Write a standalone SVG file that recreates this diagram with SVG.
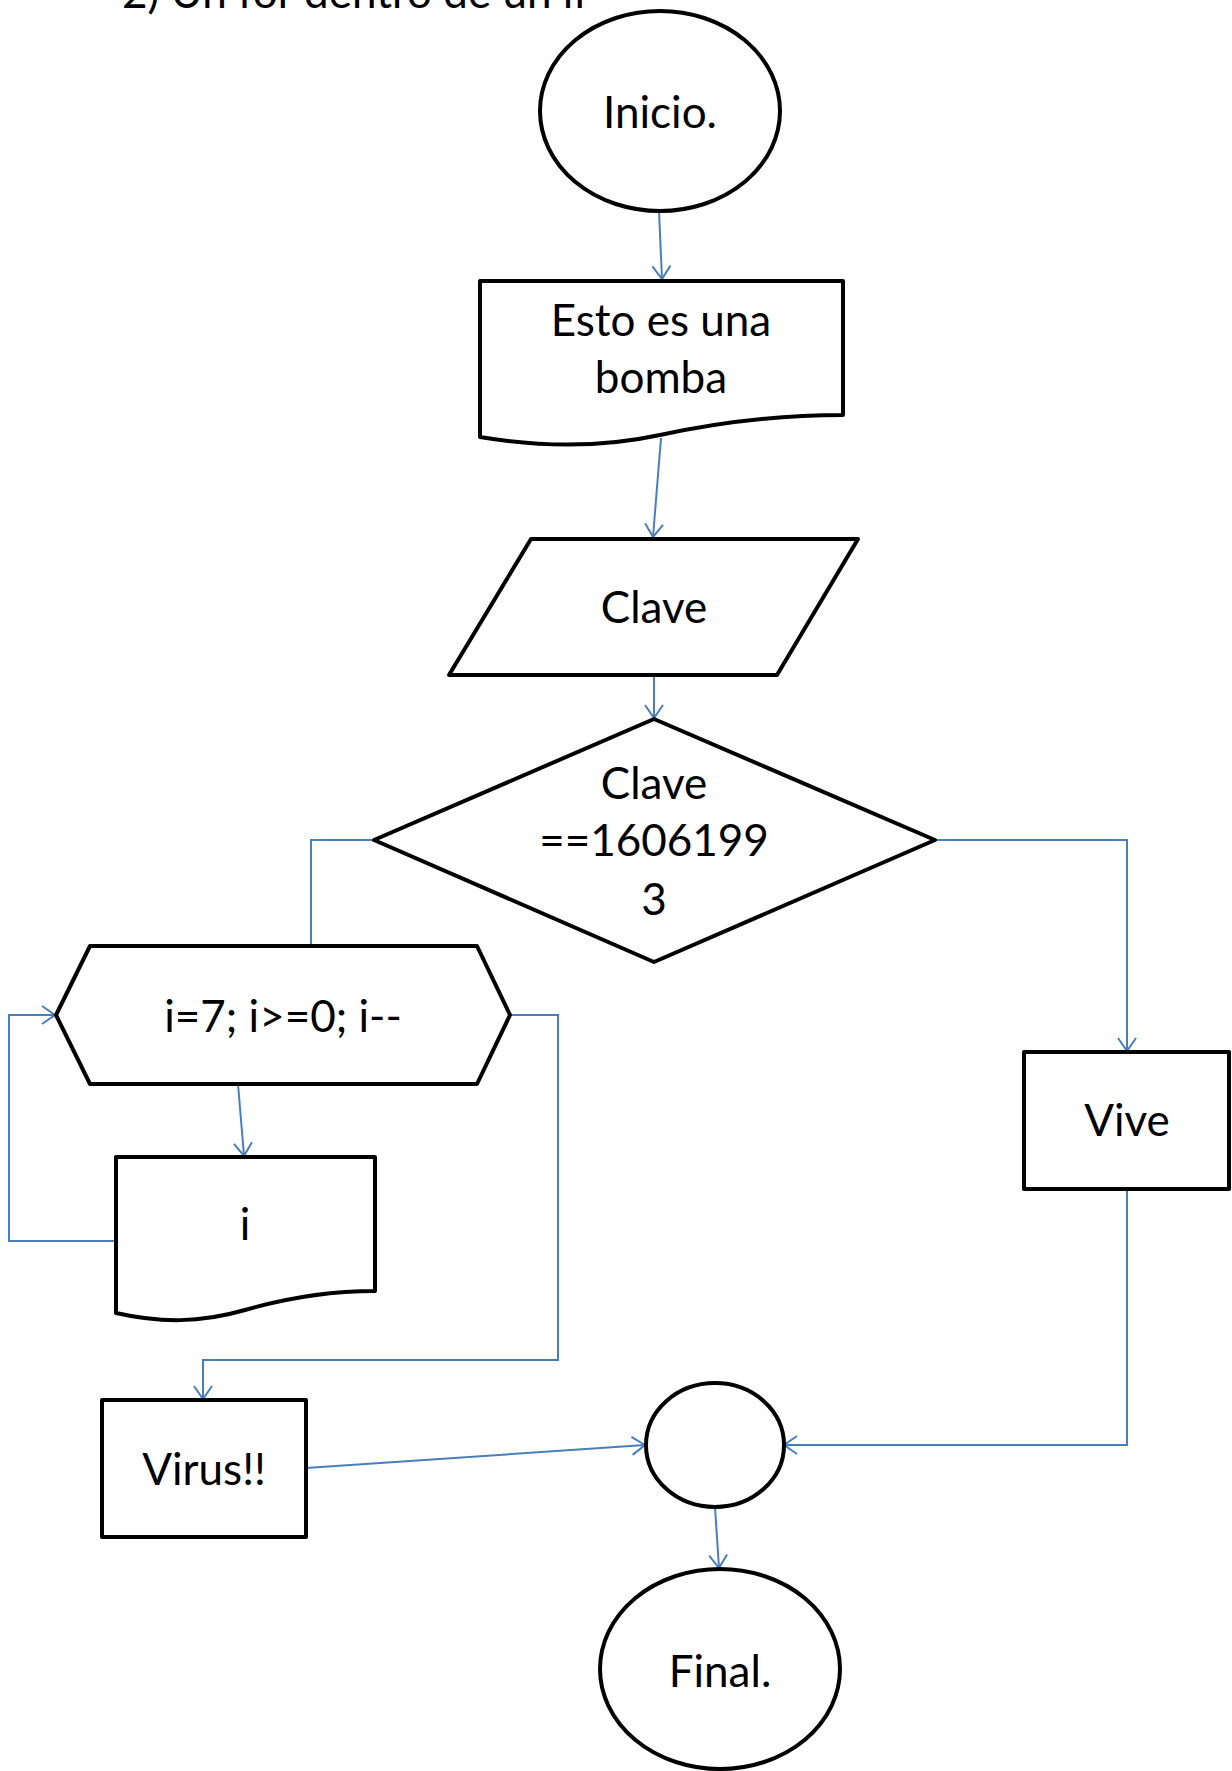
<svg xmlns="http://www.w3.org/2000/svg" width="1232" height="1771" viewBox="0 0 1232 1771">
<defs>
<style>
.shape{fill:#fff;stroke:#000;stroke-width:4;stroke-linejoin:round}
.conn{fill:none;stroke:#4a7ebb;stroke-width:2}
.lbl{font-family:Lato,"Open Sans","Liberation Sans",sans-serif;font-size:44px;fill:#000;text-anchor:middle}
</style>
<marker id="arr" markerUnits="userSpaceOnUse" markerWidth="30" markerHeight="30" refX="0" refY="0" viewBox="-15 -15 30 30" orient="auto">
<path d="M-13,-9 L0,0 L-13,9" fill="none" stroke="#4a7ebb" stroke-width="2"/>
</marker>
</defs>
<rect width="1232" height="1771" fill="#fff"/>
<text class="lbl" x="122" y="8" style="text-anchor:start">2) Un for dentro de un if</text>

<g id="connectors">
<path class="conn" d="M659,211 L662,279" marker-end="url(#arr)"/>
<path class="conn" d="M661,438 L653,537" marker-end="url(#arr)"/>
<path class="conn" d="M654,675 L654,718" marker-end="url(#arr)"/>
<path class="conn" d="M374,840 H311 V946"/>
<path class="conn" d="M935,840 H1127 V1051" marker-end="url(#arr)"/>
<path class="conn" d="M238,1084 L244,1156" marker-end="url(#arr)"/>
<path class="conn" d="M116,1241 H9 V1015 H55" marker-end="url(#arr)"/>
<path class="conn" d="M510,1015 H558 V1360 H203 V1399" marker-end="url(#arr)"/>
<path class="conn" d="M306,1468 L645,1445" marker-end="url(#arr)"/>
<path class="conn" d="M1127,1189 V1445 H784" marker-end="url(#arr)"/>
<path class="conn" d="M715,1507 L719,1568" marker-end="url(#arr)"/>
</g>

<g id="inicio">
<ellipse class="shape" cx="660" cy="111" rx="120" ry="100"/>
<text class="lbl" x="660" y="128">Inicio.</text>
</g>

<g id="mensaje">
<path class="shape" d="M480,281 H843 V415 C780,415 720,422 660,435 C600,448 540,447 480,437 Z"/>
<text class="lbl" x="661" y="336">Esto es una</text>
<text class="lbl" x="661" y="393">bomba</text>
</g>

<g id="clave-input">
<path class="shape" d="M531,539 H858 L777,675 H449 Z"/>
<text class="lbl" x="654" y="623">Clave</text>
</g>

<g id="decision">
<path class="shape" d="M654,719 L935,840 L654,962 L374,840 Z"/>
<text class="lbl" x="654" y="799">Clave</text>
<text class="lbl" x="654" y="856">==1606199</text>
<text class="lbl" x="654" y="915">3</text>
</g>

<g id="for-loop">
<path class="shape" d="M90,946 H477 L510,1015 L477,1084 H90 L56,1015 Z"/>
<text class="lbl" x="283" y="1032">i=7; i&gt;=0; i--</text>
</g>

<g id="print-i">
<path class="shape" d="M116,1157 H375 V1291 C330,1291 290,1297 245,1310 C200,1323 160,1323 116,1313 Z"/>
<text class="lbl" x="245" y="1240">i</text>
</g>

<g id="vive">
<rect class="shape" x="1024" y="1052" width="205" height="137"/>
<text class="lbl" x="1127" y="1136">Vive</text>
</g>

<g id="virus">
<rect class="shape" x="102" y="1400" width="204" height="137"/>
<text class="lbl" x="204" y="1485">Virus!!</text>
</g>

<g id="conector">
<ellipse class="shape" cx="715" cy="1445" rx="69" ry="62"/>
</g>

<g id="final">
<ellipse class="shape" cx="720" cy="1669" rx="120" ry="100"/>
<text class="lbl" x="720" y="1687">Final.</text>
</g>
</svg>
